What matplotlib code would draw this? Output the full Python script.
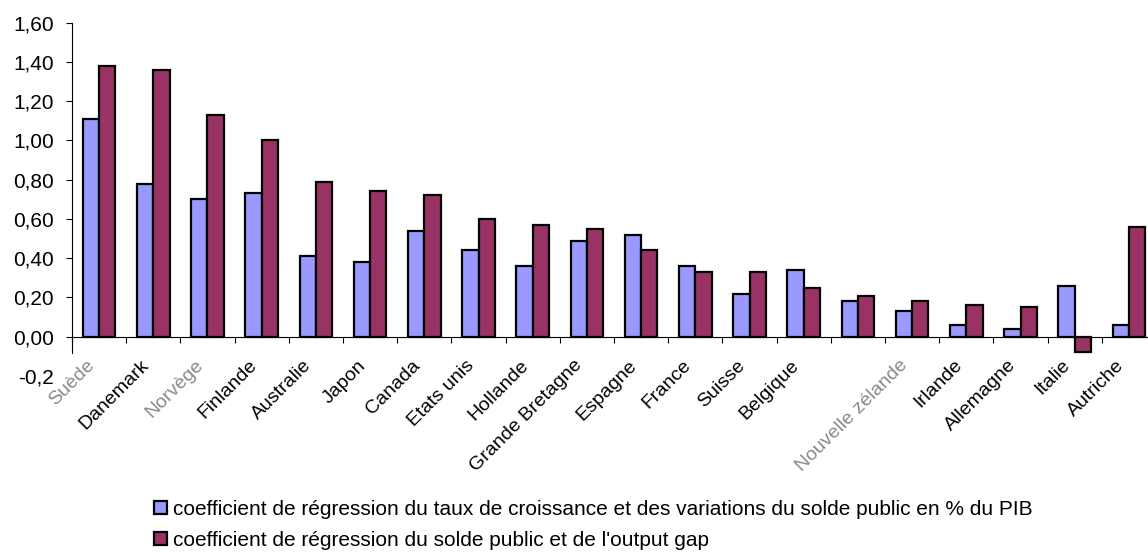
import matplotlib
import matplotlib.pyplot as plt
import matplotlib.transforms as mtransforms
import numpy as np
matplotlib.use('Agg')

# categories (one unnamed country between Belgique and Nouvelle zélande)
countries = ['Suède', 'Danemark', 'Norvège', 'Finlande', 'Australie', 'Japon',
             'Canada', 'Etats unis', 'Hollande', 'Grande Bretagne', 'Espagne',
             'France', 'Suisse', 'Belgique', '', 'Nouvelle zélande', 'Irlande',
             'Allemagne', 'Italie', 'Autriche']
# labels that are blurred in the source picture
blurred = ['Suède', 'Norvège', 'Nouvelle zélande']

coef_growth = [1.11, 0.78, 0.70, 0.73, 0.41, 0.38, 0.54, 0.44, 0.36, 0.49,
               0.52, 0.36, 0.22, 0.34, 0.18, 0.13, 0.06, 0.04, 0.26, 0.06]
coef_gap = [1.38, 1.36, 1.13, 1.00, 0.79, 0.74, 0.72, 0.60, 0.57, 0.55,
            0.44, 0.33, 0.33, 0.25, 0.21, 0.18, 0.16, 0.15, -0.08, 0.56]

series_names = ["coefficient de régression du taux de croissance et des variations du solde public en % du PIB",
                "coefficient de régression du solde public et de l'output gap"]

y_ticks = [-0.2, 0.0, 0.2, 0.4, 0.6, 0.8, 1.0, 1.2, 1.4, 1.6]
y_tick_labels = ['-0,2', '0,00', '0,20', '0,40', '0,60', '0,80', '1,00',
                 '1,20', '1,40', '1,60']

BLUE = '#9999FF'
PLUM = '#993366'
FS = 15

plt.rcParams['font.family'] = ['Liberation Sans', 'DejaVu Sans']

fig = plt.figure(figsize=(11.48, 5.52), dpi=100)
ax = fig.add_axes([0.0627, 0.3188, 0.9443, 0.6404])

x = np.arange(len(countries))
w = 0.3
b1 = ax.bar(x - w / 2, coef_growth, w, color=BLUE, edgecolor='black',
            linewidth=1.6, zorder=3)
b2 = ax.bar(x + w / 2, coef_gap, w, color=PLUM, edgecolor='black',
            linewidth=1.6, zorder=3)

ax.set_xlim(-0.5, len(countries) - 0.5)
ax.set_ylim(-0.2, 1.6)

# spines
for side in ['top', 'right']:
    ax.spines[side].set_visible(False)
ax.spines['bottom'].set_position(('data', 0))
ax.spines['left'].set_bounds(-0.085, 1.6)
ax.spines['left'].set_linewidth(0.8)
ax.spines['bottom'].set_linewidth(0.8)

# y axis
ax.set_yticks(y_ticks)
ax.set_yticklabels(y_tick_labels, fontsize=FS)
ax.tick_params(axis='y', length=4.5, width=0.8, pad=8.5)
ax.yaxis.get_major_ticks()[0].tick1line.set_visible(False)

# x axis: ticks between categories, labels drawn by hand
ax.set_xticks(np.arange(len(countries) + 1) - 0.5)
ax.set_xticklabels([])
ax.tick_params(axis='x', length=4, width=0.8, direction='out')

offset = mtransforms.ScaledTranslation(-0.13, -0.20, fig.dpi_scale_trans)
for i, name in enumerate(countries):
    col = '#8a8a8a' if name in blurred else 'black'
    ax.text(i, 0, name, rotation=45, ha='right', va='top',
            rotation_mode='anchor', fontsize=14, color=col,
            transform=ax.transData + offset, clip_on=False)

# legend
fig.legend([b1, b2], series_names, loc='upper left',
           bbox_to_anchor=(154 / 1148, 1 - 500 / 552), frameon=False,
           fontsize=FS, handlelength=0.6, handleheight=0.6,
           handletextpad=0.3, labelspacing=0.58, borderpad=0,
           borderaxespad=0)

plt.savefig('out.png', dpi=100)
